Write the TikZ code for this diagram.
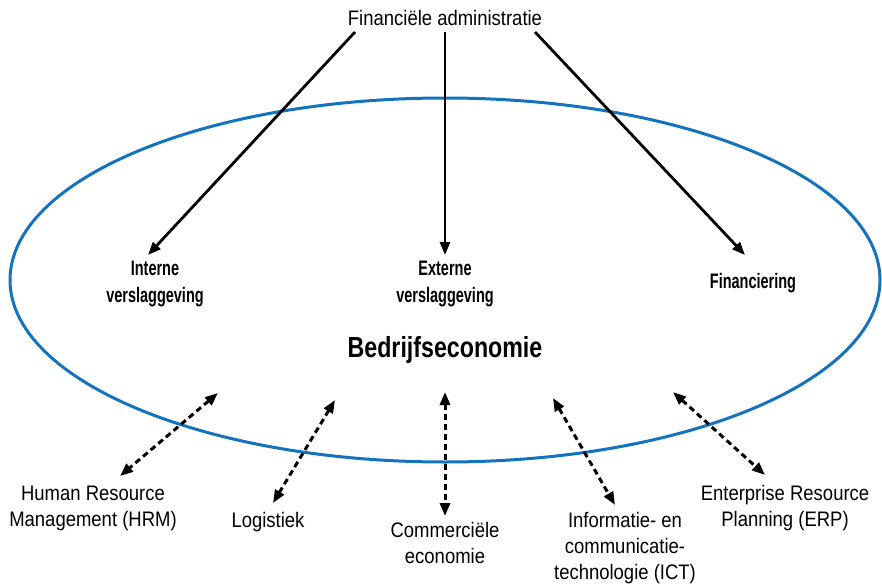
\documentclass[tikz,border=0pt]{standalone}
\usepackage{fontspec}
\setmainfont[FakeStretch=0.88]{Liberation Sans}
\newfontfamily\boldlbl[FakeStretch=0.69]{Liberation Sans Bold}
\newfontfamily\boldtitle[FakeStretch=0.8]{Liberation Sans Bold}
\usetikzlibrary{arrows.meta}
\definecolor{ellblue}{RGB}{20,115,190}
\begin{document}
\begin{tikzpicture}[x=1pt,y=-1pt,
  lbl/.style={align=center,font=\fontsize{21}{26}\selectfont,inner sep=0pt},
  blbl/.style={align=center,font=\boldlbl\fontsize{21}{27}\selectfont,inner sep=0pt},
  solidarrow/.style={line width=2.8pt,-{Triangle[length=13pt,width=10pt]}},
  dasharrow/.style={line width=3pt,dash pattern=on 6pt off 4pt,{Triangle[length=13pt,width=10pt]}-{Triangle[length=13pt,width=10pt]}}]
\useasboundingbox (0,0) rectangle (882,588);
\draw[ellblue,line width=3pt] (445,280) ellipse [x radius=435,y radius=182];
\node[lbl] (fa) at (445,18) {Financiële administratie};
\coordinate (fa1) at (355,32);
\coordinate (fa2) at (445,32);
\coordinate (fa3) at (535,32);
\node[blbl] (iv) at (155,284) {Interne\\verslaggeving};
\node[blbl] (ev) at (445,284) {Externe\\verslaggeving};
\node[blbl] (fi) at (753,283) {Financiering};
\node[align=center,inner sep=0pt,font=\boldtitle\fontsize{29}{30}\selectfont] (be) at (445,350) {Bedrijfseconomie};
\coordinate (ivt) at (148,255);
\coordinate (evt) at (445,255);
\coordinate (fit) at (745,255);
\draw[solidarrow] (fa1) -- (ivt);
\draw[solidarrow] (fa2) -- (evt);
\draw[solidarrow] (fa3) -- (fit);
\node[lbl] (hrm) at (93,508) {Human Resource\\Management (HRM)};
\node[lbl] (log) at (268,522) {Logistiek};
\node[lbl] (com) at (445,543) {Commerciële\\economie};
\node[lbl] (ict) at (625,548) {Informatie- en\\communicatie-\\technologie (ICT)};
\node[lbl] (erp) at (785,508) {Enterprise Resource\\Planning (ERP)};
\coordinate (hrmA) at (218,393); \coordinate (hrmB) at (120,476);
\coordinate (logA) at (335,400); \coordinate (logB) at (273,503);
\coordinate (comA) at (445,392); \coordinate (comB) at (445,516);
\coordinate (ictA) at (553,398); \coordinate (ictB) at (615,505);
\coordinate (erpA) at (673,392); \coordinate (erpB) at (765,475);
\draw[dasharrow] (hrmA) -- (hrmB);
\draw[dasharrow] (logA) -- (logB);
\draw[dasharrow] (comA) -- (comB);
\draw[dasharrow] (ictA) -- (ictB);
\draw[dasharrow] (erpA) -- (erpB);
\end{tikzpicture}
\end{document}
